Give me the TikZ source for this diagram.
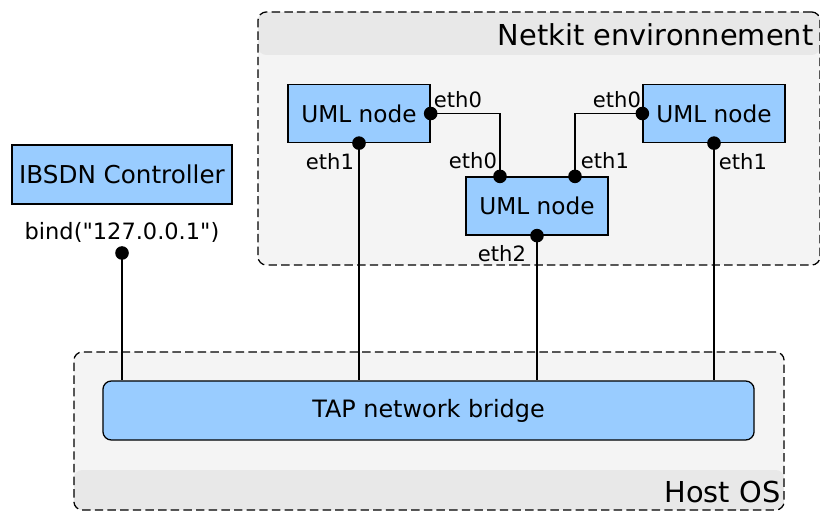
\documentclass[tikz,border=0pt]{standalone}
\usepackage{fontspec}
\setmainfont{DejaVu Sans}[Ligatures=TeXOff]
\usetikzlibrary{positioning}
\definecolor{nodeBlue}{HTML}{99CCFF}
\definecolor{zoneLight}{HTML}{F4F4F4}
\definecolor{zoneBand}{HTML}{E8E8E8}

\begin{document}
\begin{tikzpicture}[x=0.025cm,y=-0.025cm,
 zone/.style={draw,dash pattern=on 6pt off 3pt,line width=0.9pt,rounded corners=6pt,fill=zoneLight},
 box/.style={draw,line width=0.9pt,fill=nodeBlue,font=\fontsize{16.5}{19}\selectfont},
 uml/.style={box,minimum width=3.55cm,minimum height=1.45cm},
 port/.style={circle,fill=black,inner sep=0pt,minimum size=0.34cm},
 link/.style={line width=1pt},
 iface/.style={font=\fontsize{15}{17}\selectfont,inner sep=1pt},
 title/.style={font=\fontsize{20.5}{23}\selectfont,inner sep=1pt}
]
\useasboundingbox (0,0) rectangle (820,511);

% environments
\node[zone,minimum width=14.05cm,minimum height=6.325cm,
 path picture={\fill[zoneBand] (path picture bounding box.north west) rectangle ([yshift=-1.075cm]path picture bounding box.north east);}] (netkit) at (539,138.5) {};
\node[zone,minimum width=17.75cm,minimum height=3.95cm,
 path picture={\fill[zoneBand] (path picture bounding box.south west) rectangle ([yshift=1cm]path picture bounding box.south east);}] (host) at (429,431) {};
\node[title,anchor=east] (netkitlbl) at (815,35) {Netkit environnement};
\node[title,anchor=east] (hostlbl) at (782,492) {Host OS};

% boxes
\node[box,rounded corners=6pt,minimum width=16.275cm,minimum height=1.475cm,font=\fontsize{17}{20}\selectfont] (tap) at (428.5,410.5) {TAP network bridge};
\node[box,minimum width=5.5cm,minimum height=1.475cm,font=\fontsize{17.5}{20}\selectfont] (ctl) at (122,174.5) {IBSDN Controller};
\node[font=\fontsize{16}{19}\selectfont] (bind) at (122,232) {bind("127.0.0.1")};
\node[uml] (u1) at (359,113.5) {UML node};
\node[uml] (u2) at (537,206) {UML node};
\node[uml] (u3) at (714,113.5) {UML node};

% ports
\node[port] (ctlp) at (122,253) {};
\node[port] (u1e0) at (u1.east) {};
\node[port] (u1e1) at (u1.south) {};
\node[port] (u2e0) at ([xshift=-0.925cm]u2.north) {};
\node[port] (u2e1) at ([xshift=0.95cm]u2.north) {};
\node[port] (u2e2) at (u2.south) {};
\node[port] (u3e0) at (u3.west) {};
\node[port] (u3e1) at (u3.south) {};

\node[iface] (l1) at (458,100) {eth0};
\node[iface] (l2) at (330,162) {eth1};
\node[iface] (l3) at (473,161) {eth0};
\node[iface] (l4) at (605,161) {eth1};
\node[iface] (l5) at (502,254) {eth2};
\node[iface] (l6) at (617,100) {eth0};
\node[iface] (l7) at (743,162) {eth1};

% links
\draw[link] (u1e0.center) -| (u2e0.center);
\draw[link] (u3e0.center) -| (u2e1.center);
\draw[link] (ctlp.center) -- (ctlp |- tap.north);
\draw[link] (u1e1.center) -- (u1e1 |- tap.north);
\draw[link] (u2e2.center) -- (u2e2 |- tap.north);
\draw[link] (u3e1.center) -- (u3e1 |- tap.north);
\end{tikzpicture}
\end{document}
